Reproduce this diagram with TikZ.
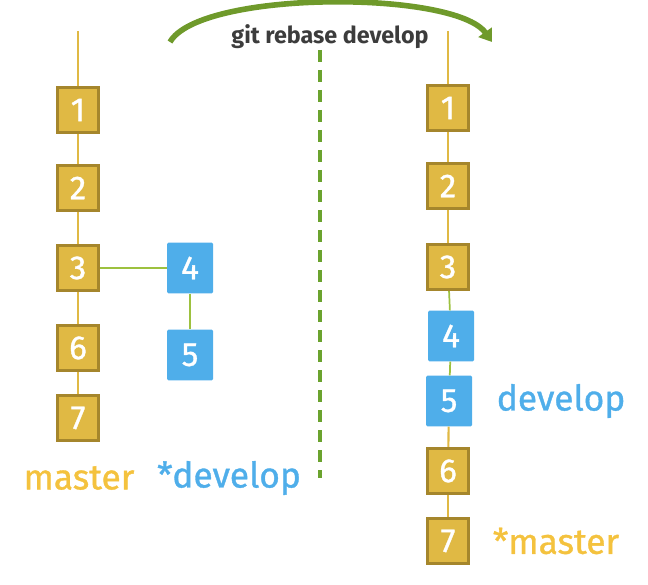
\documentclass[tikz,border=0pt]{standalone}
\usepackage{fontspec}
\setmainfont{Fira Sans}
\newfontfamily\heavyfont[FakeBold=1]{Fira Sans}
\usepackage{tikz}
\usetikzlibrary{arrows.meta}

\definecolor{goldfill}{HTML}{E0B944}
\definecolor{goldedge}{HTML}{A5862C}
\definecolor{goldtext}{HTML}{F4C23E}
\definecolor{bluefill}{HTML}{4FAEEA}
\definecolor{linkgreen}{HTML}{9DC13F}
\definecolor{arcgreen}{HTML}{6F9A2B}
\definecolor{dashgreen}{HTML}{6BA32E}
\definecolor{cmdgray}{HTML}{3C3C3C}

\tikzset{
    commitm/.style={draw=goldedge, line width=2.2pt, fill=goldfill, text=white,
        minimum width=30.5pt, minimum height=34pt, inner sep=0pt, font=\heavyfont\fontsize{25}{25}\selectfont},
    commitd/.style={fill=bluefill, rounded corners=1pt, text=white,
        minimum width=34.5pt, minimum height=38pt, inner sep=0pt, font=\heavyfont\fontsize{25}{25}\selectfont},
    mainlink/.style={draw=goldfill, line width=1.6pt},
    sidelink/.style={draw=linkgreen, line width=1.3pt},
    branchname/.style={font=\heavyfont\fontsize{26.5}{26.5}\selectfont, inner sep=0pt}
}

\begin{document}
\begin{tikzpicture}[x=0.75pt,y=-0.75pt]
    \useasboundingbox (0,0) rectangle (648,584);

    % Before the rebase
    \coordinate (ltop) at (78,31);
    \node[commitm] (l1) at (78,110) {1};
    \node[commitm] (l2) at (78,188) {2};
    \node[commitm] (l3) at (78,268) {3};
    \node[commitm] (l6) at (78,348) {6};
    \node[commitm] (l7) at (78,418) {7};
    \node[commitd] (l4) at (190,268) {4};
    \node[commitd] (l5) at (190,355) {5};

    \draw[mainlink] (ltop) -- (l1);
    \foreach \a/\b in {l1/l2, l2/l3, l3/l6, l6/l7} {
        \draw[mainlink] (\a) -- (\b);
    }
    \draw[sidelink] (l3) -- (l4);
    \draw[sidelink] (l4) -- (l5);

    \node[branchname, text=goldtext] (lmaster) at (79,478) {master};
    \node[branchname, text=bluefill] (ldevelop) at (229,478) {*develop};

    % Separator and command
    \coordinate (septop) at (320,50);
    \coordinate (sepbot) at (320,478);
    \draw[dashgreen, line width=2.4pt, dash pattern=on 9pt off 6pt] (septop) -- (sepbot);

    \node[text=cmdgray, font=\bfseries\fontsize{17.5}{17.5}\selectfont] (cmd) at (330,37) {git rebase develop};
    \coordinate (arcfrom) at (170,42);
    \coordinate (arcto) at (492,42);
    \draw[arcgreen, line width=4.2pt, -{Triangle[length=9pt,width=12pt]}]
        (arcfrom) .. controls (200,-10) and (455,-10) .. (arcto);

    % After the rebase
    \coordinate (rtop) at (448,31);
    \node[commitm] (r1) at (448,108) {1};
    \node[commitm] (r2) at (448,186) {2};
    \node[commitm] (r3) at (448,267) {3};
    \node[commitd] (r4) at (451,336) {4};
    \node[commitd] (r5) at (449,401) {5};
    \node[commitm] (r6) at (448,471) {6};
    \node[commitm] (r7) at (448,541) {7};

    \draw[mainlink] (rtop) -- (r1);
    \foreach \a/\b in {r1/r2, r2/r3, r5/r6, r6/r7} {
        \draw[mainlink] (\a) -- (\b);
    }
    \draw[sidelink] (r3) -- (r4);
    \draw[sidelink] (r4) -- (r5);

    \node[branchname, text=bluefill] (rdevelop) at (561,401) {develop};
    \node[branchname, text=goldtext] (rmaster) at (556,541) {*master};
\end{tikzpicture}
\end{document}
